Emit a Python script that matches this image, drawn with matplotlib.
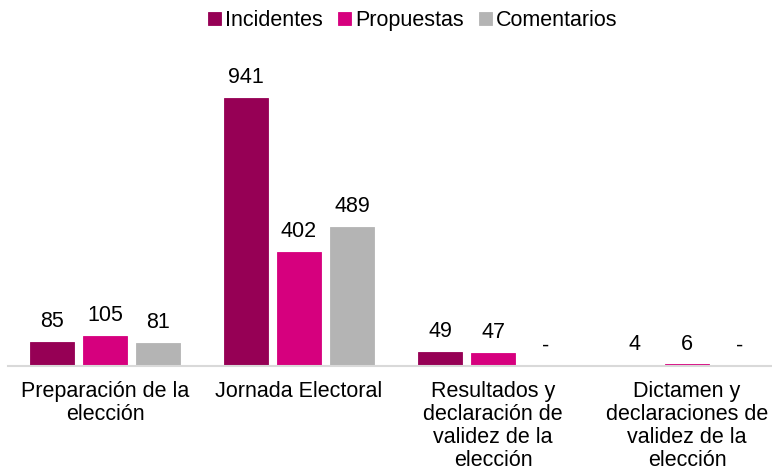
import matplotlib.pyplot as plt
import numpy as np

plt.rcParams['font.family'] = ['Liberation Sans', 'DejaVu Sans']

categorias = ["Preparación de la\nelección", "Jornada Electoral",
              "Resultados y\ndeclaración de\nvalidez de la\nelección",
              "Dictamen y\ndeclaraciones de\nvalidez de la\nelección"]
series = ["Incidentes", "Propuestas", "Comentarios"]
incidentes = [85, 941, 49, 4]
propuestas = [105, 402, 47, 6]
comentarios = [81, 489, 0, 0]
colores = ["#960055", "#D6007E", "#B4B4B4"]

fig = plt.figure(figsize=(7.72, 4.71), dpi=100)
ax = fig.add_axes([8 / 772, 1 - 366 / 471, 764 / 772, (366 - 40) / 471])

x = np.arange(len(categorias))
ancho = 0.227
paso = 0.273
for i, (nombre, vals, color) in enumerate(zip(series, [incidentes, propuestas, comentarios], colores)):
    pos = x + (i - 1) * paso
    barras = ax.bar(pos, vals, ancho, color=color, label=nombre, zorder=2,
                    edgecolor=color, linewidth=0.6)
    etiquetas = [str(v) if v else "-" for v in vals]
    ax.bar_label(barras, labels=etiquetas, padding=7, fontsize=15.5)

ax.set_xlim(-0.5, 3.438)
ax.set_ylim(0, (366 - 40) / (268 / 941))
ax.set_xticks(x)
ax.set_xticklabels(categorias, fontsize=15.5, linespacing=1.12)
ax.tick_params(axis='x', length=0, pad=11)
ax.set_yticks([])
for lado in ["top", "right", "left"]:
    ax.spines[lado].set_visible(False)
ax.spines["bottom"].set_color("#D9D9D9")
ax.spines["bottom"].set_linewidth(1.5)

fig.legend(loc="upper center", bbox_to_anchor=(0.535, 1.02), ncol=3, frameon=False,
           fontsize=15.5, handlelength=0.6, handleheight=0.6, handletextpad=0.2,
           columnspacing=0.7)

fig.savefig("out.png", dpi=100)
